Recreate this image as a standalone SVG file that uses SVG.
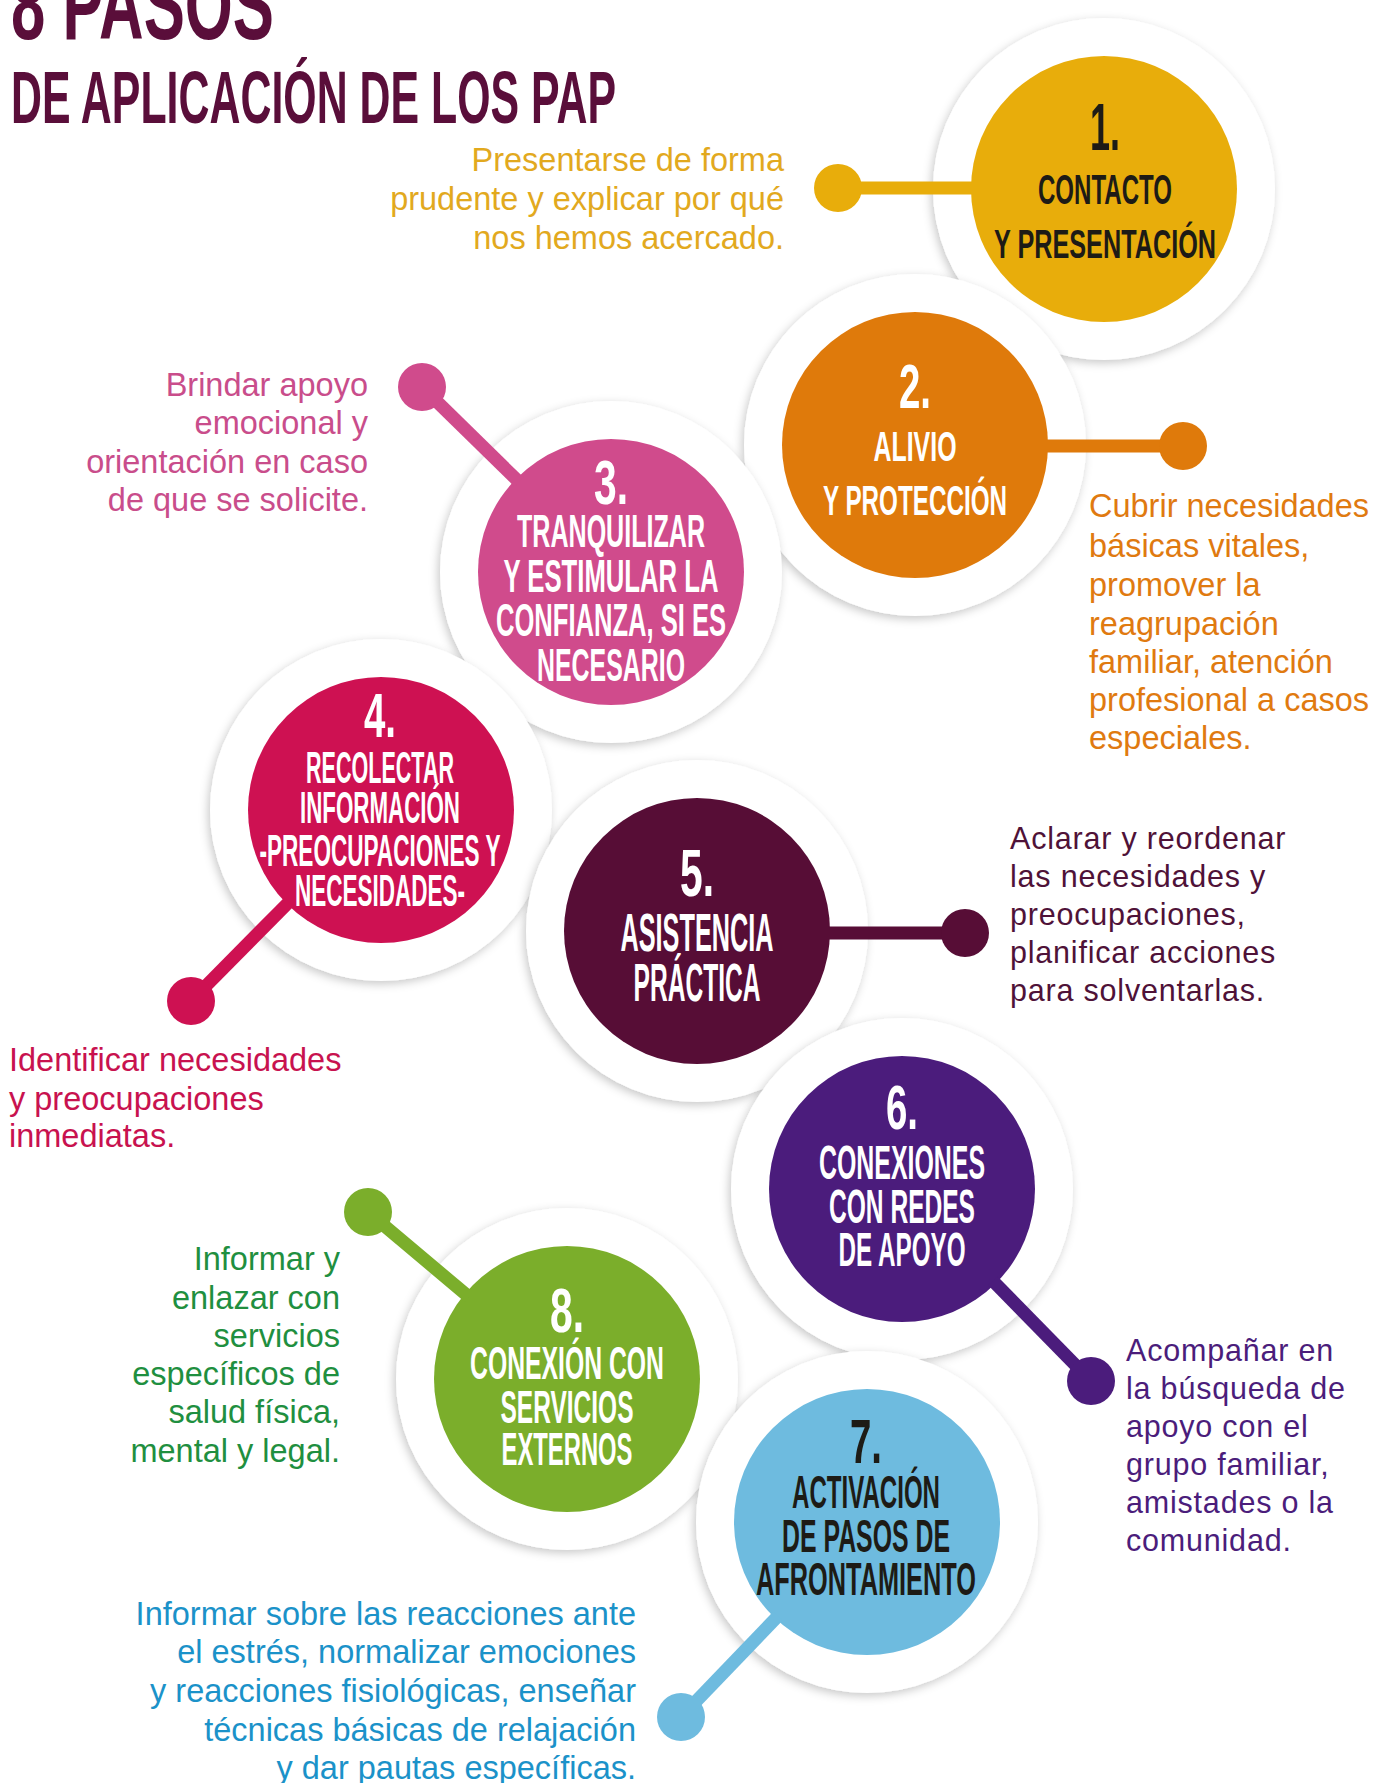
<svg xmlns="http://www.w3.org/2000/svg" width="1376" height="1783" viewBox="0 0 1376 1783">
<defs>
<filter id="sh" x="-20%" y="-20%" width="140%" height="140%">
<feDropShadow dx="-2" dy="3" stdDeviation="5" flood-color="#000" flood-opacity="0.22"/>
</filter>
</defs>
<style>
.ring{fill:#fff;filter:url(#sh)}
.lab{font-family:"Liberation Sans Narrow","Liberation Sans",Arial,sans-serif;font-weight:bold;text-anchor:middle}
.w{fill:#fff}
.k{fill:#1d1b16}
.desc{font-family:"Liberation Sans",Arial,sans-serif;font-size:32.5px}
.wide{font-family:"Liberation Sans",Arial,sans-serif;font-size:30.5px;letter-spacing:0.8px}
.end{text-anchor:end}
.title{font-family:"Liberation Sans Narrow","Liberation Sans",Arial,sans-serif;font-weight:bold;fill:#5a0e3a}
.ln{stroke-width:13;fill:none}
</style>
<rect width="1376" height="1783" fill="#fff"/>

<g id="title">
<text class="title" x="11" y="39" font-size="100" textLength="263" lengthAdjust="spacingAndGlyphs">8 PASOS</text>
<text class="title" x="11" y="123" font-size="75" textLength="605" lengthAdjust="spacingAndGlyphs">DE APLICACIÓN DE LOS PAP</text>
</g>

<g id="node1">
<circle class="ring" cx="1104" cy="189" r="171"/>
<circle cx="1104" cy="189" r="133" fill="#e8ad0b"/>
<text class="lab k" x="1105" y="150" font-size="66" textLength="30" lengthAdjust="spacingAndGlyphs">1.</text>
<text class="lab k" x="1105" y="204" font-size="42" textLength="134" lengthAdjust="spacingAndGlyphs">CONTACTO</text>
<text class="lab k" x="1105" y="258" font-size="41" textLength="222" lengthAdjust="spacingAndGlyphs">Y PRESENTACIÓN</text>
<text class="desc end" fill="#e2a91e"><tspan x="784" y="171">Presentarse de forma</tspan><tspan x="784" y="210">prudente y explicar por qué</tspan><tspan x="784" y="249">nos hemos acercado.</tspan></text>
</g>

<g id="node2">
<circle class="ring" cx="915" cy="445" r="171"/>
<circle cx="915" cy="445" r="133" fill="#df7a0b"/>
<text class="lab w" x="915" y="408" font-size="63" textLength="32" lengthAdjust="spacingAndGlyphs">2.</text>
<text class="lab w" x="915" y="461" font-size="43" textLength="83" lengthAdjust="spacingAndGlyphs">ALIVIO</text>
<text class="lab w" x="915" y="515" font-size="43" textLength="184" lengthAdjust="spacingAndGlyphs">Y PROTECCIÓN</text>
<text class="desc" fill="#e07a10"><tspan x="1089" y="517">Cubrir necesidades</tspan><tspan x="1089" y="557">básicas vitales,</tspan><tspan x="1089" y="596">promover la</tspan><tspan x="1089" y="635">reagrupación</tspan><tspan x="1089" y="673">familiar, atención</tspan><tspan x="1089" y="711">profesional a casos</tspan><tspan x="1089" y="749">especiales.</tspan></text>
</g>

<g id="node3">
<circle class="ring" cx="611" cy="572" r="171"/>
<circle cx="611" cy="572" r="133" fill="#d04b8c"/>
<text class="lab w" x="611" y="504" font-size="63" textLength="34" lengthAdjust="spacingAndGlyphs">3.</text>
<text class="lab w" x="611" y="547" font-size="46" textLength="188" lengthAdjust="spacingAndGlyphs">TRANQUILIZAR</text>
<text class="lab w" x="611" y="592" font-size="46" textLength="215" lengthAdjust="spacingAndGlyphs">Y ESTIMULAR LA</text>
<text class="lab w" x="611" y="636" font-size="46" textLength="230" lengthAdjust="spacingAndGlyphs">CONFIANZA, SI ES</text>
<text class="lab w" x="611" y="681" font-size="46" textLength="148" lengthAdjust="spacingAndGlyphs">NECESARIO</text>
<text class="desc end" fill="#c94d8b"><tspan x="368" y="396">Brindar apoyo</tspan><tspan x="368" y="434">emocional y</tspan><tspan x="368" y="473">orientación en caso</tspan><tspan x="368" y="511">de que se solicite.</tspan></text>
</g>

<g id="node4">
<circle class="ring" cx="381" cy="810" r="171"/>
<circle cx="381" cy="810" r="133" fill="#ce1152"/>
<text class="lab w" x="380" y="737" font-size="63" textLength="32" lengthAdjust="spacingAndGlyphs">4.</text>
<text class="lab w" x="380" y="783" font-size="44" textLength="148" lengthAdjust="spacingAndGlyphs">RECOLECTAR</text>
<text class="lab w" x="380" y="823" font-size="44" textLength="160" lengthAdjust="spacingAndGlyphs">INFORMACIÓN</text>
<text class="lab w" x="380" y="866" font-size="44" textLength="241" lengthAdjust="spacingAndGlyphs">-PREOCUPACIONES Y</text>
<text class="lab w" x="380" y="906" font-size="44" textLength="170" lengthAdjust="spacingAndGlyphs">NECESIDADES-</text>
<text class="desc" fill="#c8124f"><tspan x="9" y="1071">Identificar necesidades</tspan><tspan x="9" y="1110">y preocupaciones</tspan><tspan x="9" y="1147">inmediatas.</tspan></text>
</g>

<g id="node5">
<circle class="ring" cx="697" cy="931" r="171"/>
<circle cx="697" cy="931" r="133" fill="#570d36"/>
<text class="lab w" x="697" y="896" font-size="66" textLength="34" lengthAdjust="spacingAndGlyphs">5.</text>
<text class="lab w" x="697" y="951" font-size="54" textLength="153" lengthAdjust="spacingAndGlyphs">ASISTENCIA</text>
<text class="lab w" x="697" y="1001" font-size="54" textLength="127" lengthAdjust="spacingAndGlyphs">PRÁCTICA</text>
<text class="wide" fill="#4f1238"><tspan x="1010" y="849">Aclarar y reordenar</tspan><tspan x="1010" y="887">las necesidades y</tspan><tspan x="1010" y="925">preocupaciones,</tspan><tspan x="1010" y="963">planificar acciones</tspan><tspan x="1010" y="1001">para solventarlas.</tspan></text>
</g>

<g id="node6">
<circle class="ring" cx="902" cy="1189" r="171"/>
<circle cx="902" cy="1189" r="133" fill="#4b1c7c"/>
<text class="lab w" x="902" y="1129" font-size="63" textLength="32" lengthAdjust="spacingAndGlyphs">6.</text>
<text class="lab w" x="902" y="1179" font-size="48" textLength="166" lengthAdjust="spacingAndGlyphs">CONEXIONES</text>
<text class="lab w" x="902" y="1223" font-size="48" textLength="146" lengthAdjust="spacingAndGlyphs">CON REDES</text>
<text class="lab w" x="902" y="1266" font-size="48" textLength="127" lengthAdjust="spacingAndGlyphs">DE APOYO</text>
<text class="wide" fill="#4b1d7b"><tspan x="1126" y="1361">Acompañar en</tspan><tspan x="1126" y="1399">la búsqueda de</tspan><tspan x="1126" y="1437">apoyo con el</tspan><tspan x="1126" y="1475">grupo familiar,</tspan><tspan x="1126" y="1513">amistades o la</tspan><tspan x="1126" y="1551">comunidad.</tspan></text>
</g>

<g id="node8">
<circle class="ring" cx="567" cy="1379" r="171"/>
<circle cx="567" cy="1379" r="133" fill="#7bae2b"/>
<text class="lab w" x="567" y="1332" font-size="63" textLength="34" lengthAdjust="spacingAndGlyphs">8.</text>
<text class="lab w" x="567" y="1379" font-size="46" textLength="194" lengthAdjust="spacingAndGlyphs">CONEXIÓN CON</text>
<text class="lab w" x="567" y="1423" font-size="46" textLength="133" lengthAdjust="spacingAndGlyphs">SERVICIOS</text>
<text class="lab w" x="567" y="1465" font-size="46" textLength="131" lengthAdjust="spacingAndGlyphs">EXTERNOS</text>
<text class="desc end" fill="#1f8f40"><tspan x="340" y="1270">Informar y</tspan><tspan x="340" y="1309">enlazar con</tspan><tspan x="340" y="1347">servicios</tspan><tspan x="340" y="1385">específicos de</tspan><tspan x="340" y="1423">salud física,</tspan><tspan x="340" y="1462">mental y legal.</tspan></text>
</g>

<g id="node7">
<circle class="ring" cx="867" cy="1522" r="171"/>
<circle cx="867" cy="1522" r="133" fill="#6ebbdf"/>
<text class="lab k" x="866" y="1463" font-size="63" textLength="32" lengthAdjust="spacingAndGlyphs">7.</text>
<text class="lab k" x="866" y="1508" font-size="46" textLength="148" lengthAdjust="spacingAndGlyphs">ACTIVACIÓN</text>
<text class="lab k" x="866" y="1552" font-size="46" textLength="168" lengthAdjust="spacingAndGlyphs">DE PASOS DE</text>
<text class="lab k" x="866" y="1595" font-size="46" textLength="220" lengthAdjust="spacingAndGlyphs">AFRONTAMIENTO</text>
<text class="desc end" fill="#1b92c9"><tspan x="636" y="1625">Informar sobre las reacciones ante</tspan><tspan x="636" y="1663">el estrés, normalizar emociones</tspan><tspan x="636" y="1702">y reacciones fisiológicas, enseñar</tspan><tspan x="636" y="1741">técnicas básicas de relajación</tspan><tspan x="636" y="1779">y dar pautas específicas.</tspan></text>
</g>

<g id="connectors">
<line class="ln" stroke="#e8ad0b" x1="838" y1="188" x2="973" y2="188"/>
<circle cx="838" cy="188" r="24" fill="#e8ad0b"/>
<line class="ln" stroke="#df7a0b" x1="1183" y1="446" x2="1046" y2="446"/>
<circle cx="1183" cy="446" r="24" fill="#df7a0b"/>
<line class="ln" stroke="#d04b8c" x1="422" y1="387" x2="519" y2="482"/>
<circle cx="422" cy="387" r="24" fill="#d04b8c"/>
<line class="ln" stroke="#ce1152" x1="191" y1="1001" x2="289" y2="902"/>
<circle cx="191" cy="1001" r="24" fill="#ce1152"/>
<line class="ln" stroke="#570d36" x1="965" y1="933" x2="828" y2="933"/>
<circle cx="965" cy="933" r="24" fill="#570d36"/>
<line class="ln" stroke="#4b1c7c" x1="1091" y1="1381" x2="993" y2="1281"/>
<circle cx="1091" cy="1381" r="24" fill="#4b1c7c"/>
<line class="ln" stroke="#7bae2b" x1="368" y1="1212" x2="469" y2="1297"/>
<circle cx="368" cy="1212" r="24" fill="#7bae2b"/>
<line class="ln" stroke="#6ebbdf" x1="681" y1="1717" x2="778" y2="1616"/>
<circle cx="681" cy="1717" r="24" fill="#6ebbdf"/>
</g>
</svg>
